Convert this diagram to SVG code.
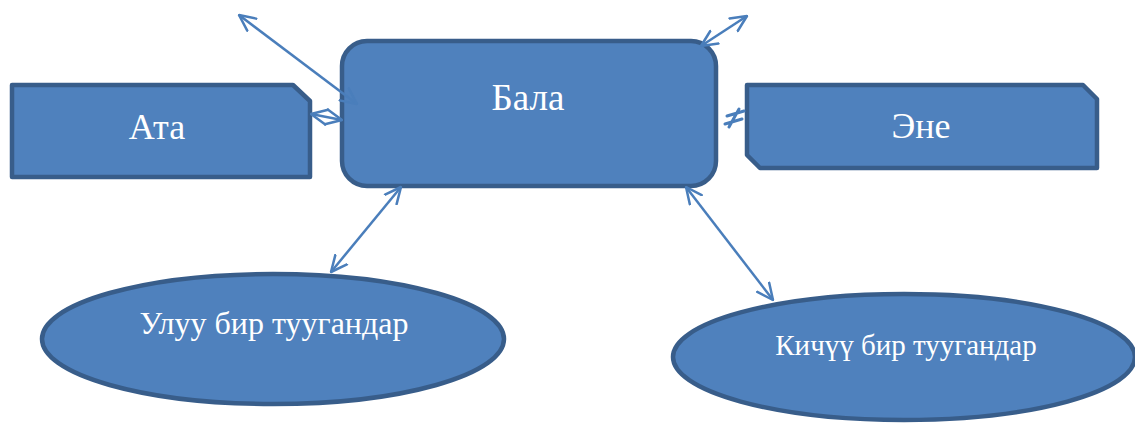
<svg xmlns="http://www.w3.org/2000/svg" width="1135" height="423" viewBox="0 0 1135 423">
<style>
.shape{fill:#4F81BD;stroke:#385D8A;stroke-width:4.5;stroke-linejoin:round}
.lbl{font-family:"Liberation Serif","Times New Roman",serif;fill:#FFFFFF;text-anchor:middle}
.conn{stroke:#4A7EBB;stroke-width:2.5;fill:none;marker-start:url(#ah);marker-end:url(#ah)}
</style>
<defs>
<marker id="ah" markerUnits="userSpaceOnUse" viewBox="0 0 18 18" refX="17" refY="9" markerWidth="18" markerHeight="18" orient="auto-start-reverse">
<path d="M1,1.5 L17,9 L1,16.5" fill="none" stroke="#4A7EBB" stroke-width="2.5" stroke-linecap="round" stroke-linejoin="round"/>
</marker>
</defs>
<g id="node-ata">
<path class="shape" d="M12,85 L293,85 L310,101 L310,177 L12,177 Z"/>
<text class="lbl" x="157" y="139" font-size="36">Ата</text>
</g>
<g id="node-ene">
<path class="shape" d="M747,85 L1083,85 L1097,99 L1097,168 L760,168 L747,155 Z"/>
<text class="lbl" x="921" y="138" font-size="36">Эне</text>
</g>
<g id="node-bala">
<rect class="shape" x="342" y="41" width="374" height="145" rx="25" ry="25"/>
<text class="lbl" x="528" y="110" font-size="37">Бала</text>
</g>
<g id="node-uluu">
<ellipse class="shape" cx="273" cy="339" rx="231" ry="65"/>
<text class="lbl" x="274" y="334" font-size="32">Улуу бир туугандар</text>
</g>
<g id="node-kichuu">
<ellipse class="shape" cx="904" cy="357" rx="231" ry="63"/>
<text class="lbl" x="906" y="355" font-size="29">Кичүү бир туугандар</text>
</g>
<g id="connectors">
<line class="conn" x1="239" y1="15" x2="357" y2="104"/>
<line class="conn" x1="747" y1="16" x2="701" y2="46"/>
<line class="conn" x1="311" y1="114" x2="342" y2="120"/>
<path d="M727,116 L744,111 M725,124 L742,119 M729,127 L739,109" stroke="#4A7EBB" stroke-width="3" fill="none" stroke-linecap="round"/>
<line class="conn" x1="401" y1="187" x2="331" y2="272"/>
<line class="conn" x1="686" y1="187" x2="773" y2="300"/>
</g>
</svg>
